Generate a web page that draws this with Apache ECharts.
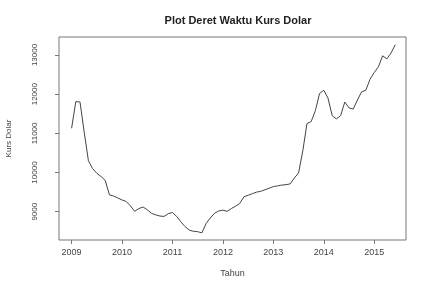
<!DOCTYPE html>
<html>
<head>
<meta charset="utf-8">
<script src="https://cdn.jsdelivr.net/npm/echarts@6/dist/echarts.min.js"></script>
<style>html,body{margin:0;padding:0;background:#fff}#c{width:438px;height:288px}</style>
</head>
<body>
<div id="c"></div>
<script>
var startYear = 2009;
// monthly exchange rate, Jan 2009 .. Jun 2015
var kursDolar = [
  11130, 11810, 11800, 11030, 10300, 10100, 9980, 9900, 9800, 9430, 9400, 9350,
  9300, 9260, 9150, 9010, 9080, 9120, 9050, 8960, 8920, 8890, 8880, 8950,
  8980, 8880, 8740, 8620, 8530, 8500, 8490, 8460, 8700, 8840, 8960, 9020,
  9040, 9010, 9080, 9140, 9210, 9380, 9420, 9460, 9500, 9520, 9560, 9600,
  9640, 9660, 9680, 9690, 9710, 9860, 9990, 10550, 11250, 11300, 11580, 12020,
  12100, 11900, 11450, 11370, 11450, 11800, 11650, 11620, 11850, 12060, 12100, 12380,
  12550, 12700, 12980, 12900, 13050, 13260
];
var xTicks = [2009, 2010, 2011, 2012, 2013, 2014, 2015];
var yTicks = [9000, 10000, 11000, 12000, 13000];

var data = kursDolar.map(function (v, i) { return [startYear + i / 12, v]; });
var font = 'Liberation Sans';
var chart = echarts.init(document.getElementById('c'));
chart.setOption({
  animation: false,
  title: {
    text: 'Plot Deret Waktu Kurs Dolar',
    left: 233, top: 10, textAlign: 'center',
    textStyle: { fontFamily: font, fontSize: 11, fontWeight: 'bold', color: '#222' }
  },
  grid: { left: 59, right: 32, top: 37, bottom: 48, outerBoundsMode: 'none', containLabel: false, show: true, borderColor: '#777', borderWidth: 1, backgroundColor: 'transparent' },
  xAxis: {
    type: 'value', min: 2008.75, max: 2015.63,
    name: 'Tahun', nameLocation: 'middle', nameGap: 29,
    nameTextStyle: { fontFamily: font, fontSize: 9, color: '#444' },
    axisLine: { show: false },
    axisTick: { show: true, length: 4, customValues: xTicks, lineStyle: { color: '#777' } },
    axisLabel: { customValues: xTicks, margin: 8, fontFamily: font, fontSize: 9, color: '#444', formatter: function (v) { return String(Math.round(v)); } },
    splitLine: { show: false }
  },
  yAxis: {
    type: 'value', min: 8278, max: 13459,
    name: 'Kurs Dolar', nameLocation: 'middle', nameGap: 46, nameRotate: 90,
    nameTextStyle: { fontFamily: font, fontSize: 8, color: '#444' },
    axisLine: { show: false },
    axisTick: { show: true, length: 4, customValues: yTicks, lineStyle: { color: '#777' } },
    axisLabel: { customValues: yTicks, rotate: 90, margin: 20, fontFamily: font, fontSize: 8, color: '#444', formatter: function (v) { return String(Math.round(v)); } },
    splitLine: { show: false }
  },
  series: [{
    type: 'line', data: data, showSymbol: false, symbol: 'none',
    lineStyle: { color: '#444', width: 1 }
  }]
});
</script>
</body>
</html>
